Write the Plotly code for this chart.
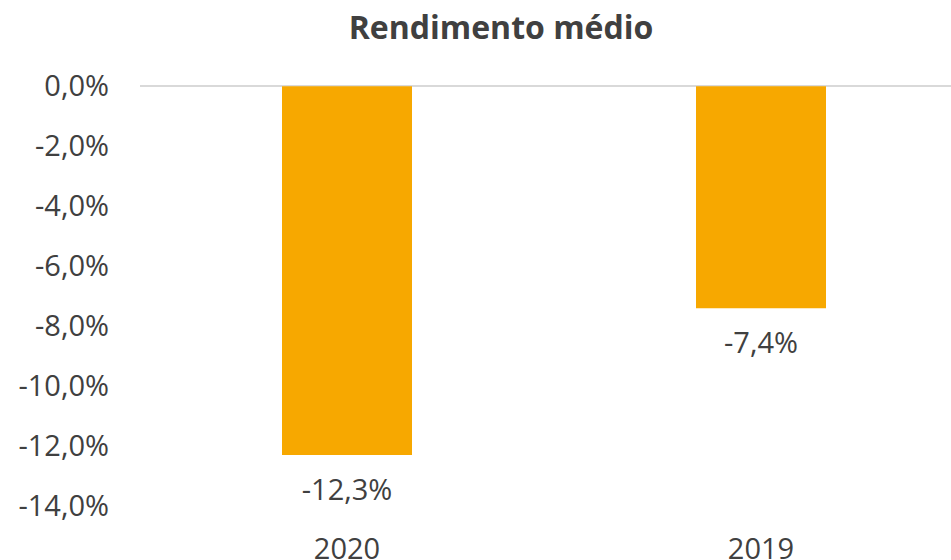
import plotly.graph_objects as go

categories = ["2020", "2019"]
values = [-0.123, -0.074]
value_labels = ["-12,3%", "-7,4%"]
tick_vals = [0, -0.02, -0.04, -0.06, -0.08, -0.10, -0.12, -0.14]
tick_text = ["0,0%", "-2,0%", "-4,0%", "-6,0%", "-8,0%", "-10,0%", "-12,0%", "-14,0%"]

FONT = "Open Sans"
TXT = "#404040"
BAR = "#F7A800"

fig = go.Figure()
fig.add_trace(go.Bar(
    x=categories, y=values, marker_color=BAR, marker_line_width=0,
    width=0.314, hoverinfo="skip",
))
fig.add_trace(go.Scatter(
    x=categories, y=values, mode="markers+text", text=value_labels,
    textposition="bottom center", cliponaxis=False, hoverinfo="skip",
    marker=dict(size=36, color="rgba(0,0,0,0)"),
    textfont=dict(family=FONT, size=29, color=TXT),
))

fig.update_layout(
    width=951, height=560,
    margin=dict(l=140, r=0, t=86, b=54),
    paper_bgcolor="white", plot_bgcolor="white",
    showlegend=False,
    title=dict(text="<b>Rendimento médio</b>", x=501/951, xref="container", xanchor="center",
               y=1 - 28/560, yref="container", yanchor="middle",
               font=dict(family=FONT, size=32, color=TXT)),
    xaxis=dict(range=[-0.5, 1.5 - 17/414], showgrid=False, showline=False, zeroline=False,
               automargin=False,
               tickfont=dict(family=FONT, size=29, color=TXT), ticks="", ticklabelstandoff=23),
    yaxis=dict(range=[-0.14, 0.0001], tickvals=tick_vals, ticktext=tick_text, showgrid=False,
               automargin=False,
               zeroline=True, zerolinecolor="#D9D9D9", zerolinewidth=1.5, showline=False,
               tickfont=dict(family=FONT, size=29, color=TXT), ticks="", ticklabelstandoff=30),
)

fig.write_html("out.html", config={"displayModeBar": False},
               post_script="document.body.style.margin='0';")
